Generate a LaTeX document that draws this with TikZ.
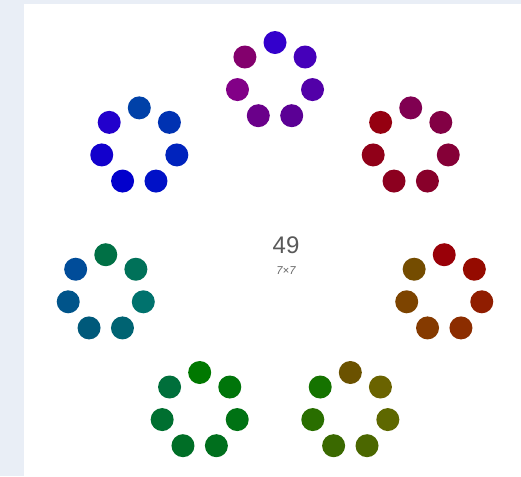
\documentclass[tikz,border=0pt]{standalone}
\usepackage{fontspec}
\setmainfont{Liberation Sans}
\usetikzlibrary{calc}

\definecolor{framebg}{HTML}{E9EEF6}
% hue (unwrapped) and brightness every half ring, from the top dot of the top ring
\def\dothues{{255,280,322,345,357,383,406,441,480,498,517,553,577,598,615}}
\def\dotvals{{0.80,0.55,0.50,0.54,0.60,0.54,0.42,0.40,0.47,0.43,0.44,0.45,0.66,0.80,0.80}}

\begin{document}
\begin{tikzpicture}[x=0.75pt, y=-0.75pt,
  numtext/.style={text=black!65, font=\fontsize{18}{20}\selectfont, inner sep=0pt},
  facttext/.style={text=black!60, font=\fontsize{8.5}{9}\selectfont\itshape, inner sep=0pt}]
% Frame and white sheet
\fill[framebg] (0,0) rectangle (521,476);
\fill[white] (24,4) rectangle (521,476);
\useasboundingbox (0,0) rectangle (521,476);
% Seven rings of seven dots round the hub
\coordinate (hub) at (275,254.6);
\foreach \i in {0,...,6} {
  \coordinate (r\i) at ($(hub)+({-90+\i*360/7}:173.6)$);
  \foreach \j in {0,...,6} {
    \pgfmathsetmacro{\pos}{2*(7*\i+\j)/7}
    \pgfmathtruncatemacro{\m}{floor(\pos)}
    \pgfmathsetmacro{\t}{\pos-\m}
    \pgfmathsetmacro{\dothue}{mod(\dothues[\m]+(\dothues[\m+1]-\dothues[\m])*\t,360)}
    \pgfmathsetmacro{\dotval}{\dotvals[\m]+(\dotvals[\m+1]-\dotvals[\m])*\t}
    \definecolor{dotcol}{Hsb}{\dothue,1,\dotval}
    \fill[dotcol] ($(r\i)+({-90+\j*360/7}:38.5)$) circle[radius=11.5];
  }
}
% Number and its factors
\node[numtext] (total) at (286,245) {49};
\node[facttext] (factors) at (286,271) {7×7};
\end{tikzpicture}
\end{document}
